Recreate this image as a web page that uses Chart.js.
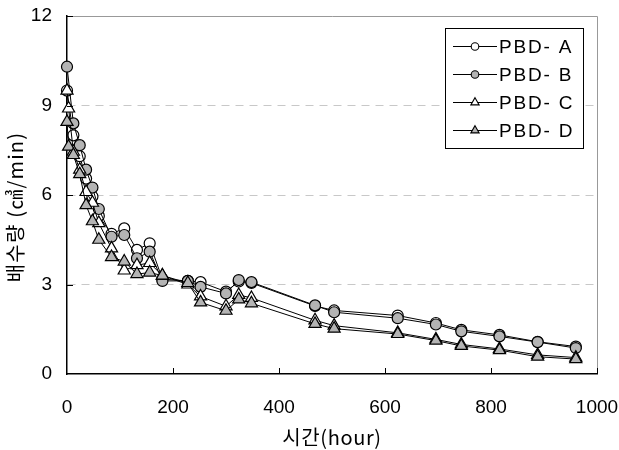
<!DOCTYPE html>
<html><head><meta charset="utf-8">
<script src="https://cdn.jsdelivr.net/npm/chart.js@4/dist/chart.umd.min.js"></script>
<style>html,body{margin:0;padding:0;background:#fff}#wrap{width:619px;height:450px;position:relative}</style>
</head><body><div id="wrap"><canvas id="c" width="619" height="450"></canvas></div>
<script>
// ---- data ----
const seriesNames = ['PBD- A', 'PBD- B', 'PBD- C', 'PBD- D'];
const timesAB = [0, 12, 24, 36, 48, 60, 84, 108, 132, 156, 180, 228, 252, 300, 324, 348, 468, 504, 624, 696, 744, 816, 888, 960];
const timesCD = [0, 3, 12, 24, 36, 48, 60, 84, 108, 132, 156, 180, 228, 252, 300, 324, 348, 468, 504, 624, 696, 744, 816, 888, 960];
const valuesA = [9.5, 8.0, 7.3, 6.55, 5.95, 5.3, 4.7, 4.88, 4.16, 4.38, 3.18, 3.12, 3.08, 2.76, 3.1, 3.05, 2.28, 2.13, 1.96, 1.71, 1.48, 1.31, 1.08, 0.92];
const valuesB = [10.3, 8.4, 7.67, 6.85, 6.25, 5.53, 4.6, 4.66, 3.88, 4.1, 3.12, 3.12, 2.92, 2.7, 3.15, 3.08, 2.3, 2.07, 1.87, 1.66, 1.43, 1.26, 1.07, 0.87];
const valuesC = [9.5, 8.9, 7.45, 6.85, 6.1, 5.74, 5.06, 4.21, 3.47, 3.65, 3.72, 3.3, 3.0, 2.6, 2.27, 2.65, 2.55, 1.8, 1.62, 1.38, 1.16, 0.99, 0.84, 0.64, 0.55];
const valuesD = [8.45, 7.62, 7.34, 6.7, 5.66, 5.12, 4.5, 3.92, 3.77, 3.35, 3.4, 3.3, 3.05, 2.4, 2.12, 2.5, 2.37, 1.68, 1.52, 1.34, 1.12, 0.94, 0.8, 0.58, 0.5];
const xTicks = [0, 200, 400, 600, 800, 1000];
const yTicks = [0, 3, 6, 9, 12];
const xTitle = '시간(hour)';
const yTitle = '배수량 (㎤/min)';

const GRAY = '#b4b4b4';
const pts = (t, v) => t.map((x, i) => ({x: x, y: v[i]}));
const styles = [
  {style: 'circle', fill: '#ffffff', r: 5.5},
  {style: 'circle', fill: GRAY, r: 5.5},
  {style: 'triangle', fill: '#ffffff', r: 7},
  {style: 'triangle', fill: GRAY, r: 7}
];
const allData = [pts(timesAB, valuesA), pts(timesAB, valuesB), pts(timesCD, valuesC), pts(timesCD, valuesD)];
const datasets = allData.map((d, i) => ({
  label: seriesNames[i], data: d, order: 3 - i,
  borderColor: '#000', borderWidth: 1, tension: 0, clip: false,
  pointStyle: styles[i].style, pointRadius: styles[i].r,
  pointBackgroundColor: styles[i].fill, pointBorderColor: '#000', pointBorderWidth: 1.2
}));

const TICK_FONT = {family: "'Liberation Sans', Arial, sans-serif", size: 19};
const TITLE_FONT = "20px 'Noto Sans CJK KR', 'Liberation Sans', sans-serif";

function marker(ctx, style, x, y, r, fill) {
  ctx.beginPath();
  if (style === 'circle') {
    ctx.arc(x, y, r, 0, Math.PI * 2);
  } else {
    const w = r * Math.sqrt(3);
    ctx.moveTo(x, y - r);
    ctx.lineTo(x + w / 2, y + r / 2);
    ctx.lineTo(x - w / 2, y + r / 2);
    ctx.closePath();
  }
  ctx.fillStyle = fill; ctx.fill();
  ctx.lineWidth = 1.1; ctx.strokeStyle = '#000'; ctx.stroke();
}

const decor = {
  id: 'decor',
  afterDraw(chart) {
    const ctx = chart.ctx, a = chart.chartArea;
    const xs = chart.scales.x, ys = chart.scales.y;
    ctx.save();
    // top and right frame
    ctx.strokeStyle = '#999'; ctx.lineWidth = 1;
    ctx.beginPath();
    ctx.moveTo(a.left, a.top + 0.5); ctx.lineTo(a.right + 0.5, a.top + 0.5); ctx.lineTo(a.right + 0.5, a.bottom);
    ctx.stroke();
    // inward ticks
    ctx.strokeStyle = '#000'; ctx.lineWidth = 1;
    ctx.beginPath();
    yTicks.forEach(v => { if (v === 0) return; const y = Math.round(ys.getPixelForValue(v)) + 0.5; ctx.moveTo(a.left, y); ctx.lineTo(a.left + 6, y); });
    xTicks.forEach(v => { if (v === 0) return; const x = Math.round(xs.getPixelForValue(v)) + 0.5; ctx.moveTo(x, a.bottom); ctx.lineTo(x, a.bottom - 6); });
    ctx.stroke();
    // axis titles
    ctx.fillStyle = '#000'; ctx.font = TITLE_FONT;
    ctx.textAlign = 'center'; ctx.textBaseline = 'middle';
    try { ctx.letterSpacing = '0.6px'; } catch (e) {}
    ctx.fillText(xTitle, (a.left + a.right) / 2, 437);
    ctx.save(); ctx.translate(15, 207); ctx.rotate(-Math.PI / 2);
    try { ctx.letterSpacing = '1.2px'; } catch (e) {}
    ctx.fillText(yTitle, 0, 0); ctx.restore();
    // legend
    const bx = 445.5, by = 28.5, bw = 138, bh = 120;
    ctx.fillStyle = '#fff'; ctx.fillRect(bx, by, bw, bh);
    ctx.strokeStyle = '#000'; ctx.lineWidth = 1; ctx.strokeRect(bx, by, bw, bh);
    ctx.font = "19px 'Liberation Sans', Arial, sans-serif";
    ctx.textAlign = 'left'; ctx.textBaseline = 'middle';
    try { ctx.letterSpacing = '1.8px'; } catch (e) {}
    const rowY = [46.5, 74.5, 102.5, 130.5];
    chart.data.datasets.forEach((ds, i) => {
      const y = rowY[i];
      ctx.strokeStyle = '#000'; ctx.lineWidth = 1;
      ctx.beginPath(); ctx.moveTo(453, y); ctx.lineTo(497, y); ctx.stroke();
      marker(ctx, styles[i].style, 475, y, styles[i].style === 'circle' ? 3.8 : 4.8, styles[i].fill);
      ctx.fillStyle = '#000';
      ctx.fillText(ds.label, 499, y + 1);
    });
    ctx.restore();
  }
};

new Chart(document.getElementById('c').getContext('2d'), {
  type: 'line',
  data: {datasets: datasets},
  options: {
    responsive: false, animation: false,
    layout: {padding: {left: 0, right: 22, top: 16, bottom: 0}},
    plugins: {legend: {display: false}, tooltip: {enabled: false}},
    scales: {
      x: {
        type: 'linear', min: 0, max: 1000,
        afterBuildTicks: s => { s.ticks = xTicks.map(v => ({value: v})); },
        ticks: {font: TICK_FONT, color: '#000', padding: 22, callback: v => String(v)},
        grid: {display: false, drawTicks: false},
        border: {display: true, color: '#000', width: 1.5},
        afterFit: s => { s.height = 76; s.paddingLeft = 0; s.paddingRight = 0; }
      },
      y: {
        type: 'linear', min: 0, max: 12,
        afterBuildTicks: s => { s.ticks = yTicks.map(v => ({value: v})); },
        ticks: {font: TICK_FONT, color: '#000', padding: 15, callback: v => String(v)},
        grid: {drawTicks: false, lineWidth: 1,
          color: c => (c.tick && (c.tick.value === 0 || c.tick.value === 12)) ? 'rgba(0,0,0,0)' : '#c8c8c8'},
        border: {display: true, color: '#000', width: 1.5, dash: [8, 6]},
        afterFit: s => { s.width = 67; s.paddingTop = 0; s.paddingBottom = 0; }
      }
    }
  },
  plugins: [decor]
});
</script>
</body></html>
